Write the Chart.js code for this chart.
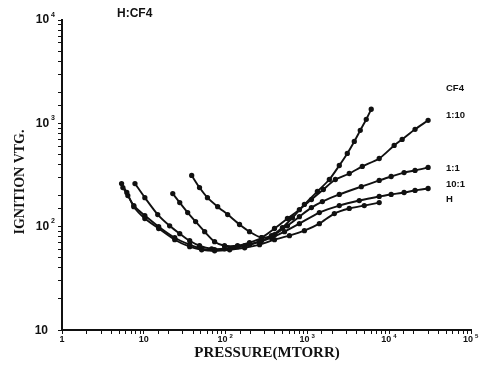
<!DOCTYPE html>
<html>
<head>
<meta charset="utf-8">
<title>H:CF4 ignition voltage</title>
<script src="https://cdn.jsdelivr.net/npm/chart.js@4.4.1/dist/chart.umd.min.js"></script>
<style>
  html, body { margin: 0; padding: 0; background: #fff; }
  #wrap { width: 480px; height: 368px; }
</style>
</head>
<body>
<div id="wrap"><canvas id="chart" width="480" height="368"></canvas></div>
<script>
"use strict";

// Pressure (mTorr) and ignition voltage readings, one pair of arrays per gas mix
const cf4P = [38.5, 48, 60, 80, 106, 148, 196, 275, 364, 495, 656, 919, 1324, 1855, 2455, 3075, 3743, 4430, 5245, 6030];
const cf4V = [313, 239, 191, 156, 131, 105, 89.4, 78.2, 81.8, 98, 122, 164, 219, 286, 391, 511, 668, 855, 1094, 1368];

const r110P = [22.6, 27.5, 34.4, 43, 55.5, 73.4, 97, 140, 196, 275, 396, 570, 798, 1120, 1567, 2196, 3250, 4690, 7550, 11500, 14400, 20700, 29900];
const r110V = [209, 171, 137, 112, 89.4, 71.5, 65.4, 65.4, 70, 78.2, 96, 120, 146, 183, 229, 286, 327, 383, 457, 611, 699, 875, 1069];

const r11P = [7.8, 10.3, 14.8, 20.7, 27.5, 36.4, 48, 67.5, 97, 140, 196, 275, 396, 570, 798, 1120, 1524, 2455, 4560, 7550, 10570, 15200, 20700, 29900];
const r11V = [261, 191, 131, 102, 85.5, 73.1, 65.4, 61.1, 61.1, 64, 66.9, 73.1, 83.6, 102, 125, 153, 175, 205, 244, 280, 306, 334, 350, 374];

const r101P = [5.55, 6.38, 7.55, 10.3, 15.2, 23.9, 36.4, 51, 73.4, 112, 171, 260, 364, 525, 798, 1400, 2455, 4305, 7550, 10570, 15200, 20700, 29900];
const r101V = [239, 200, 160, 128, 100, 78.2, 66.9, 61.1, 59.8, 61.1, 65.4, 71.5, 78.2, 89.4, 107, 137, 160, 179, 196, 205, 214, 224, 234];

const hP = [5.35, 6.2, 7.55, 10.3, 15.2, 23.9, 36.4, 51, 73.4, 112, 171, 260, 396, 603, 919, 1400, 2135, 3250, 4955, 7550];
const hV = [261, 214, 156, 120, 96, 74.8, 64, 59.8, 58.5, 59.8, 62.5, 66.9, 74.8, 81.8, 91.5, 107, 134, 150, 160, 171];

// Tick labels (decades) and series labels at the right edge
const xDecades = [1, 10, 100, 1000, 10000, 100000];
const yDecades = [10, 100, 1000, 10000];
const seriesNames = ["CF4", "1:10", "1:1", "10:1", "H"];

function toPoints(px, vy) {
  return px.map((p, i) => ({ x: p, y: vy[i] }));
}

function makeSet(name, px, vy) {
  return {
    label: name,
    data: toPoints(px, vy),
    borderColor: "#111",
    backgroundColor: "#111",
    borderWidth: 1.9,
    pointRadius: 1.7,
    pointHoverRadius: 1.7,
    tension: 0.25,
    fill: false
  };
}

const supers = { 2: "2", 3: "3", 4: "4", 5: "5" };

// Draw "10" with a small raised exponent
function drawPower(ctx, value, x, y, big, small, align) {
  const exp = Math.round(Math.log10(value));
  const base = exp === 0 ? "1" : "10";
  ctx.font = "bold " + big + "px 'Liberation Sans', Arial, sans-serif";
  const bw = ctx.measureText(base).width;
  let sw = 0;
  if (exp > 1) {
    ctx.font = "bold " + small + "px 'Liberation Sans', Arial, sans-serif";
    sw = ctx.measureText(supers[exp]).width + 2;
  }
  let left;
  if (align === "right") left = x - bw - sw;
  else left = x - bw / 2;
  ctx.textAlign = "left";
  ctx.textBaseline = "middle";
  ctx.font = "bold " + big + "px 'Liberation Sans', Arial, sans-serif";
  ctx.fillText(base, left, y);
  if (exp > 1) {
    ctx.font = "bold " + small + "px 'Liberation Sans', Arial, sans-serif";
    ctx.fillText(supers[exp], left + bw + 2, y - big * 0.45);
  }
}

const labelPlugin = {
  id: "labels",
  afterDraw(chart) {
    const ctx = chart.ctx;
    const xs = chart.scales.x;
    const ys = chart.scales.y;
    ctx.save();
    ctx.fillStyle = "#111";

    // y decade labels
    yDecades.forEach((v) => {
      const py = ys.getPixelForValue(v);
      if (v === 10) drawPower(ctx, v, 48, py + 1, 12, 7, "right");
      else drawPower(ctx, v, 55, py, 12, 7, "right");
    });

    // x decade labels
    xDecades.forEach((v) => {
      const px = xs.getPixelForValue(v);
      drawPower(ctx, v, v >= 100 ? px - 3 : px, 340, 9, 6, "center");
    });

    // axis titles
    ctx.font = "bold 15px 'Liberation Serif', 'Times New Roman', serif";
    ctx.textAlign = "center";
    ctx.textBaseline = "middle";
    ctx.fillText("PRESSURE(MTORR)", 267, 353);
    ctx.save();
    ctx.translate(20, 182);
    ctx.rotate(-Math.PI / 2);
    ctx.font = "bold 14px 'Liberation Serif', 'Times New Roman', serif";
    ctx.fillText("IGNITION VTG.", 0, 0);
    ctx.restore();

    // plot note
    ctx.font = "bold 12px 'Liberation Sans', Arial, sans-serif";
    ctx.textAlign = "left";
    ctx.fillText("H:CF4", 117, 14);

    // series labels
    const labelY = [88, 115, 168, 184, 199];
    ctx.font = "bold 9.5px 'Liberation Sans', Arial, sans-serif";
    seriesNames.forEach((n, i) => ctx.fillText(n, 446, labelY[i]));
    ctx.restore();
  }
};

const ctx = document.getElementById("chart").getContext("2d");
new Chart(ctx, {
  type: "line",
  data: {
    datasets: [
      makeSet(seriesNames[0], cf4P, cf4V),
      makeSet(seriesNames[1], r110P, r110V),
      makeSet(seriesNames[2], r11P, r11V),
      makeSet(seriesNames[3], r101P, r101V),
      makeSet(seriesNames[4], hP, hV)
    ]
  },
  options: {
    responsive: false,
    animation: false,
    layout: { padding: { left: 58, top: 20, right: 9, bottom: 34 } },
    plugins: { legend: { display: false }, tooltip: { enabled: false } },
    scales: {
      x: {
        type: "logarithmic",
        min: 1,
        max: 100000,
        ticks: { display: false },
        grid: { display: true, drawOnChartArea: false, drawTicks: true, tickLength: 4, color: "#111", tickWidth: 1 },
        border: { display: true, color: "#111", width: 2 }
      },
      y: {
        type: "logarithmic",
        min: 10,
        max: 10000,
        ticks: { display: false },
        grid: { display: true, drawOnChartArea: false, drawTicks: true, tickLength: 4, color: "#111", tickWidth: 1 },
        border: { display: true, color: "#111", width: 2 }
      }
    }
  },
  plugins: [labelPlugin]
});
</script>
</body>
</html>
